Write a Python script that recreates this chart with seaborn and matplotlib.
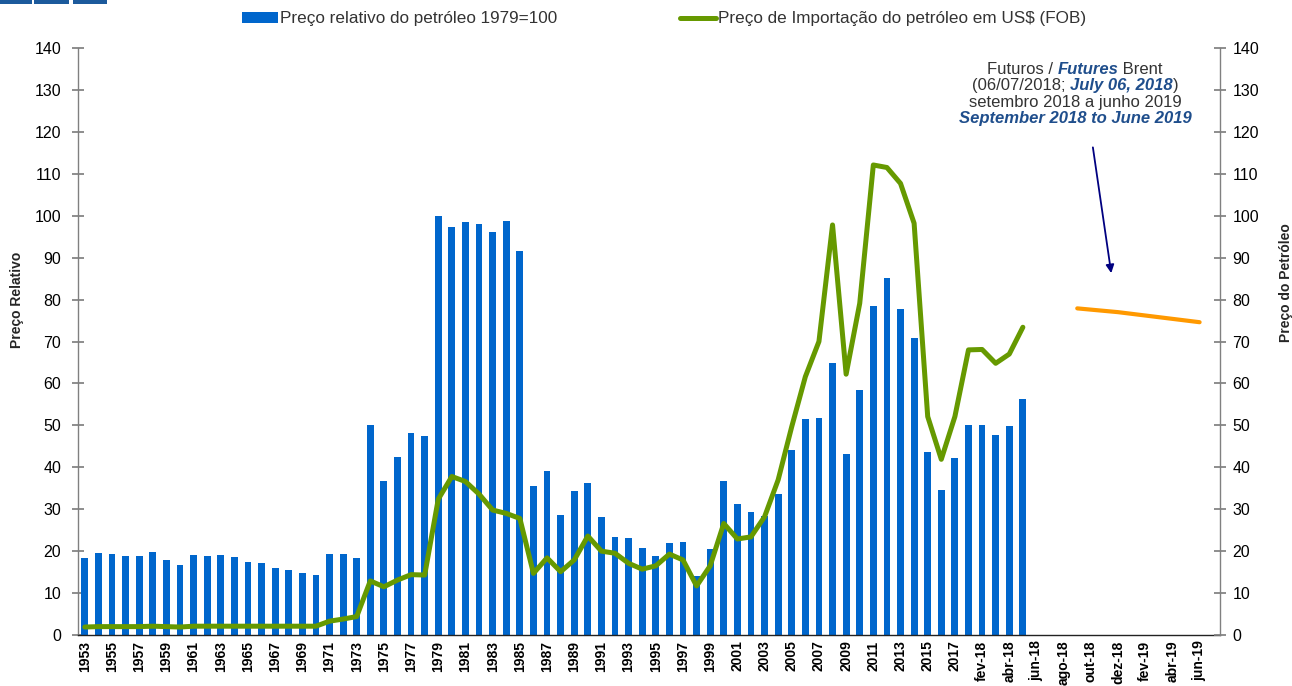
import numpy as np
import pandas as pd
import matplotlib
matplotlib.use("Agg")
import matplotlib.pyplot as plt
from matplotlib.patches import Patch, Rectangle
from matplotlib.lines import Line2D
from matplotlib.offsetbox import TextArea, HPacker, VPacker, AnnotationBbox
import seaborn as sns

# ---- data -------------------------------------------------------------
years = [str(y) for y in range(1953, 2018)]
months_18 = ["jan-18", "fev-18", "mar-18", "abr-18", "mai-18", "jun-18",
             "jul-18", "ago-18", "set-18", "out-18", "nov-18", "dez-18"]
months_19 = ["jan-19", "fev-19", "mar-19", "abr-19", "mai-19", "jun-19", "jul-19"]
categories = years + months_18 + months_19

# Preço relativo do petróleo (1979 = 100), 1953 .. mai-18
relative_price = [
    18.4, 19.6, 19.4, 18.8, 18.8, 19.7, 18.0, 16.8, 19.1, 18.9,   # 1953-1962
    19.0, 18.6, 17.5, 17.1, 16.0, 15.5, 14.8, 14.2, 19.2, 19.3,   # 1963-1972
    18.3, 50.1, 36.7, 42.5, 48.2, 47.4, 100.0, 97.4, 98.6, 98.0,  # 1973-1982
    96.2, 98.8, 91.5, 35.5, 39.0, 28.6, 34.4, 36.3, 28.1, 23.4,   # 1983-1992
    23.1, 20.8, 18.8, 21.9, 22.2, 14.1, 20.6, 36.8, 31.2, 29.3,   # 1993-2002
    28.5, 33.6, 44.1, 51.4, 51.7, 64.8, 43.2, 58.4, 78.5, 85.1,   # 2003-2012
    77.8, 70.8, 43.6, 34.5, 42.1,                                 # 2013-2017
    50.0, 50.2, 47.6, 49.8, 56.4,                                 # jan-18 .. mai-18
]

# Preço de importação do petróleo em US$ (FOB), 1953 .. mai-18
import_price = [
    1.9, 2.0, 2.0, 2.0, 2.0, 2.1, 2.0, 1.9, 2.1, 2.1,             # 1953-1962
    2.1, 2.1, 2.1, 2.1, 2.1, 2.1, 2.1, 2.1, 3.3, 3.8,             # 1963-1972
    4.4, 12.9, 11.5, 13.1, 14.4, 14.3, 32.4, 37.8, 36.6, 33.6,    # 1973-1982
    29.8, 29.0, 27.8, 14.7, 18.4, 15.1, 17.9, 23.6, 20.0, 19.5,   # 1983-1992
    17.1, 15.7, 16.5, 19.3, 17.9, 11.7, 16.5, 26.6, 22.9, 23.4,   # 1993-2002
    28.2, 37.0, 49.7, 61.6, 70.0, 97.8, 62.2, 79.1, 112.1, 111.5, # 2003-2012
    107.7, 98.2, 52.1, 41.9, 52.1,                                # 2013-2017
    68.0, 68.1, 64.8, 67.0, 73.4,                                 # jan-18 .. mai-18
]

# Futuros Brent (06/07/2018), setembro 2018 a junho 2019
futures_months = ["set-18", "out-18", "nov-18", "dez-18", "jan-19",
                  "fev-19", "mar-19", "abr-19", "mai-19", "jun-19"]
futures_price = [77.9, 77.6, 77.3, 77.0, 76.6, 76.2, 75.8, 75.4, 75.0, 74.6]

legend_labels = ["Preço relativo do petróleo 1979=100",
                 "Preço de Importação do petróleo em US$ (FOB)"]

# ---- style ------------------------------------------------------------
BLUE = "#0066CC"
GREEN = "#669900"
ORANGE = "#FF9900"
NAVY = "#000080"
TITLE_BLUE = "#1F4E8C"
GREY = "#808080"
TEXT = "#333333"

sns.set_theme(style="white")
plt.rcParams["font.family"] = ["Liberation Sans", "DejaVu Sans"]

fig = plt.figure(figsize=(12.92, 6.86), dpi=100)
ax = fig.add_axes([78 / 1292, 1 - 635 / 686, (1220 - 78) / 1292, (635 - 48) / 686])

bars = pd.DataFrame({"periodo": categories[:len(relative_price)],
                     "valor": relative_price})
sns.barplot(data=bars, x="periodo", y="valor", order=categories, color=BLUE,
            saturation=1, width=0.5, linewidth=0, errorbar=None, ax=ax)

ax2 = ax.twinx()
line_x = [categories.index(c) for c in categories[:len(import_price)]]
sns.lineplot(x=line_x, y=import_price, ax=ax2, color=GREEN, linewidth=3.6,
             solid_joinstyle="round", solid_capstyle="round")
fut_x = [categories.index(c) for c in futures_months]
sns.lineplot(x=fut_x, y=futures_price, ax=ax2, color=ORANGE, linewidth=3.0,
             solid_capstyle="round")

n = len(categories)
for a in (ax, ax2):
    a.set_xlim(-0.5, n - 0.5)
    a.set_ylim(0, 140)
    a.set_yticks(range(0, 141, 10))
    a.spines["top"].set_visible(False)
    for side in ("left", "right", "bottom"):
        a.spines[side].set_color(GREY)
        a.spines[side].set_linewidth(1.0)
ax.spines["right"].set_visible(False)
ax2.spines["left"].set_visible(False)
ax2.spines["bottom"].set_visible(False)
ax.spines["bottom"].set_color("#222222")

ax.set_xticks(range(0, n, 2))
ax.set_xticklabels(categories[::2], rotation=90, fontweight="bold",
                   fontsize=10, color="black")
ax.set_xticks(np.arange(-0.5, n, 1), minor=True)
ax.tick_params(axis="x", which="major", length=0, pad=4)
ax.tick_params(axis="x", which="minor", length=7, direction="inout",
               color="#444444", width=1)

ax.tick_params(axis="y", direction="inout", length=8, color=GREY,
               labelsize=11.5, pad=8, labelcolor="black", left=True)
ax2.tick_params(axis="y", direction="inout", length=8, color=GREY,
                labelsize=11.5, pad=5, labelcolor="black", right=True)

ax.set_xlabel("")
ax.set_ylabel("Preço Relativo", fontsize=10, fontweight="bold")
ax.yaxis.set_label_coords(-0.0473, 0.571)
ax2.set_ylabel("Preço do Petróleo", fontsize=10, fontweight="bold")
ax2.yaxis.set_label_coords(1.0517, 0.601)

# legend across the top
handles = [Patch(facecolor=BLUE, edgecolor="none"),
           Line2D([0], [0], color=GREEN, linewidth=3.6)]
fig.legend(handles, legend_labels, ncol=2, loc="center",
           bbox_to_anchor=(664 / 1292, 1 - 19 / 686), frameon=False,
           fontsize=12.3, handlelength=2.1, handleheight=0.55,
           handletextpad=0.15, columnspacing=7.15, labelcolor=TEXT)

# futures note with bilingual, mixed-style lines
reg = dict(color=TEXT, fontsize=12)
emph = dict(color=TITLE_BLUE, fontsize=12, fontweight="bold", fontstyle="italic")


def row(*parts):
    return HPacker(children=[TextArea(t, textprops=p) for t, p in parts],
                   align="baseline", pad=0, sep=0)


note = VPacker(children=[
    row(("Futuros / ", reg), ("Futures", emph), (" Brent", reg)),
    row(("(06/07/2018; ", reg), ("July 06, 2018", emph), (")", reg)),
    row(("setembro 2018 a junho 2019", reg)),
    row(("September 2018 to June 2019", emph)),
], align="center", pad=0, sep=1)
fig.add_artist(AnnotationBbox(note, (1075 / 1292, 1 - 94 / 686),
                              xycoords="figure fraction", frameon=False,
                              box_alignment=(0.5, 0.5)))

ax2.annotate("", xy=(75.5, 86.3), xytext=(74.15, 116.3),
             arrowprops=dict(arrowstyle="-|>", color=NAVY, lw=1.3,
                             mutation_scale=12, shrinkA=0, shrinkB=0))

# header stripes in the top-left corner
for x0, x1 in [(0, 32), (34, 69), (73, 107)]:
    fig.add_artist(Rectangle((x0 / 1292, 1 - 4 / 686), (x1 - x0) / 1292, 4 / 686,
                             transform=fig.transFigure, color="#1C5A9C", lw=0))

fig.savefig("out.png", dpi=100)
